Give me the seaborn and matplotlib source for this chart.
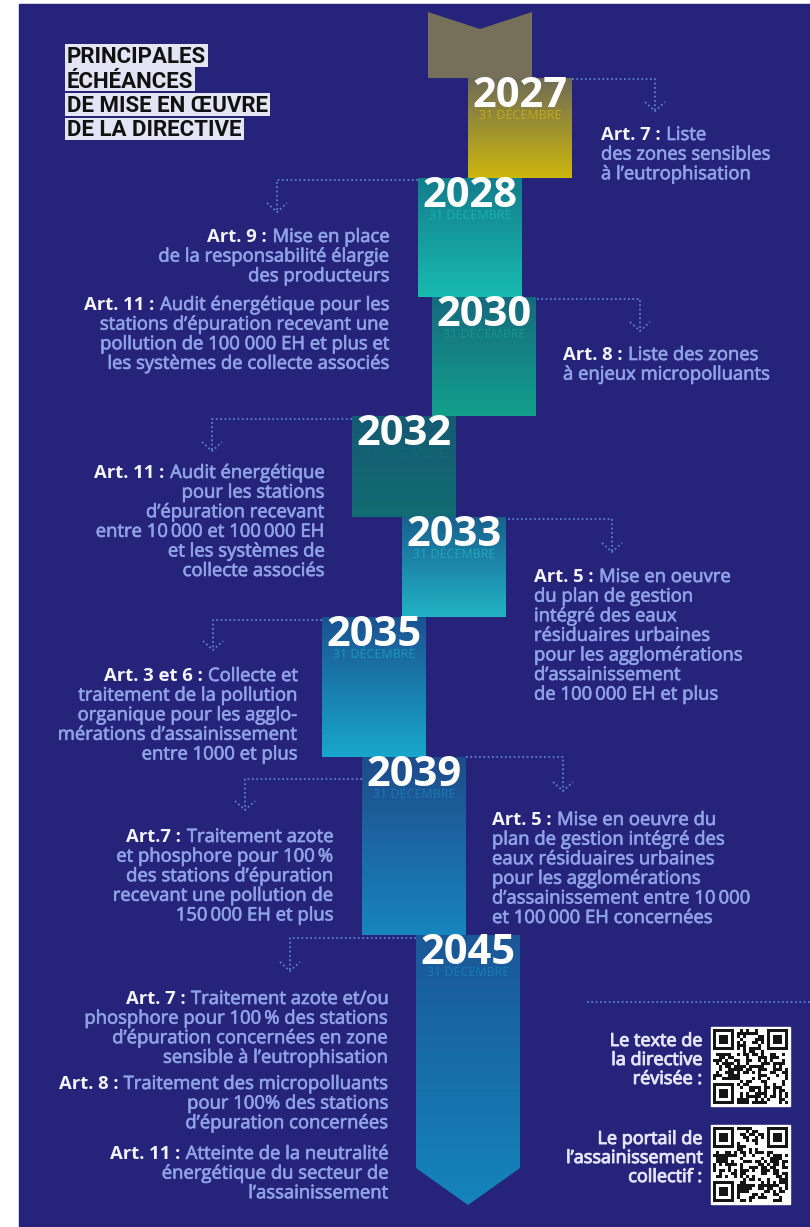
import numpy as np
import matplotlib
matplotlib.use("Agg")
import matplotlib.pyplot as plt
import matplotlib.patheffects as pe
import seaborn as sns
from matplotlib.patches import Polygon, Rectangle
from matplotlib.colors import ListedColormap

# ---------------------------------------------------------------- data
years = ["2027", "2028", "2030", "2032", "2033", "2035", "2039", "2045"]
day_label = "31 DÉCEMBRE"

title_lines = ["PRINCIPALES", "ÉCHÉANCES", "DE MISE EN ŒUVRE", "DE LA DIRECTIVE"]

note_prefix = ["Art. 7 :", "Art. 9 :", "Art. 11 :", "Art. 8 :", "Art. 11 :",
               "Art. 5 :", "Art. 3 et 6 :", "Art.7 :", "Art. 5 :",
               "Art. 7 :", "Art. 8 :", "Art. 11 :"]
note_lines = [
    ["Liste", "des zones sensibles", "à l’eutrophisation"],
    ["Mise en place", "de la responsabilité élargie", "des producteurs"],
    ["Audit énergétique pour les", "stations d’épuration recevant une",
     "pollution de 100 000 EH et plus et", "les systèmes de collecte associés"],
    ["Liste des zones", "à enjeux micropolluants"],
    ["Audit énergétique", "pour les stations", "d’épuration recevant",
     "entre 10\u2009000 et 100\u2009000 EH", "et les systèmes de", "collecte associés"],
    ["Mise en oeuvre", "du plan de gestion", "intégré des eaux", "résiduaires urbaines",
     "pour les agglomérations", "d’assainissement", "de 100\u2009000 EH et plus"],
    ["Collecte et", "traitement de la pollution", "organique pour les agglo-",
     "mérations d’assainissement", "entre 1000 et plus"],
    ["Traitement azote", "et phosphore pour 100\u2009%", "des stations d’épuration",
     "recevant une pollution de", "150\u2009000 EH et plus"],
    ["Mise en oeuvre du", "plan de gestion intégré des", "eaux résiduaires urbaines",
     "pour les agglomérations", "d’assainissement entre 10\u2009000", "et 100\u2009000 EH concernées"],
    ["Traitement azote et/ou", "phosphore pour 100\u2009% des stations",
     "d’épuration concernées en zone", "sensible à l’eutrophisation"],
    ["Traitement des micropolluants", "pour 100% des stations", "d’épuration concernées"],
    ["Atteinte de la neutralité", "énergétique du secteur de", "l’assainissement"],
]

qr_captions = [["Le texte de", "la directive", "révisée :"],
               ["Le portail de", "l’assainissement", "collectif :"]]

# -------------------------------------------------------------- layout (px)
block_x = [468, 418, 432, 352, 402, 322, 362, 416]
block_top = [78, 178, 297, 416, 517, 617, 757, 935]
block_bottom = [178, 297, 416, 517, 617, 757, 935, 1168]
BLOCK_W = 104

top_colors = ["#6f6b57", "#137d8c", "#166a7e", "#155a74", "#18608e", "#1b5291", "#1f4b8b", "#1b5797"]
bottom_colors = ["#cdb70c", "#18bbb0", "#12a08c", "#126c72", "#22b3c6", "#18a7cb", "#1785bd", "#1485bb"]

# connectors: (start x, arrow x, line y, arrow tip y)
connectors = [(572, 655, 79, 111), (418, 277, 180, 212), (537, 640, 299, 331),
              (352, 212, 419, 451), (508, 612, 519, 552), (322, 213, 620, 650),
              (362, 245, 779, 810), (466, 563, 757, 791), (416, 290, 938, 971)]

# notes: (alignment, x, first baseline)
note_pos = [("left", 601, 140), ("right", 390, 242), ("right", 390, 310),
            ("left", 563, 360), ("right", 325, 478), ("left", 534, 582),
            ("right", 298, 681), ("right", 334, 842), ("left", 492, 825),
            ("right", 389, 1004), ("right", 389, 1089), ("right", 389, 1159)]
LINE = 19.6

NAVY = "#25237a"
BODY = "#8fa2e6"
WHITE = "#f4f4ff"
DOT = "#5c7fcf"
FS = 13.3

sns.set_theme(style="white")
plt.rcParams["font.family"] = ["Open Sans", "DejaVu Sans"]

fig = plt.figure(figsize=(8.1, 12.27), dpi=100, facecolor="white")
ax = fig.add_axes([0, 0, 1, 1])
ax.axis("off")
ax.set_xlim(0, 810)
ax.set_ylim(1227, 0)

ax.add_patch(Rectangle((19, 4), 791, 1223, color=NAVY, zorder=0))

body_fx = [pe.withStroke(linewidth=0.5, foreground=BODY)]


def gradient_block(verts, c_top, c_bot, y0, y1):
    x0 = min(v[0] for v in verts)
    x1 = max(v[0] for v in verts)
    pal = np.array(sns.blend_palette([c_top, c_bot], n_colors=256))[:, None, :]
    poly = Polygon(verts, closed=True, fc="none", ec="none")
    ax.add_patch(poly)
    im = ax.imshow(pal, extent=(x0, x1, y1, y0), origin="upper",
                   aspect="auto", interpolation="bilinear", zorder=2)
    im.set_clip_path(poly)


# chevron on top of the first block
ax.add_patch(Polygon([(428, 12), (480, 29), (532, 12), (532, 78), (428, 78)],
                     closed=True, fc="#76705a", ec="none", zorder=2))

for i, year in enumerate(years):
    x0, y0, y1 = block_x[i], block_top[i], block_bottom[i]
    x1 = x0 + BLOCK_W
    if i == len(years) - 1:
        verts = [(x0, y0), (x1, y0), (x1, y1), ((x0 + x1) / 2, y1 + 37), (x0, y1)]
        gradient_block(verts, top_colors[i], bottom_colors[i], y0, y1 + 37)
    else:
        verts = [(x0, y0), (x1, y0), (x1, y1), (x0, y1)]
        gradient_block(verts, top_colors[i], bottom_colors[i], y0, y1)
    cx = (x0 + x1) / 2
    ax.text(cx, y0 + 29, year, ha="center", va="baseline", fontsize=30,
            fontweight="bold", color="white", zorder=5)
    ax.text(cx, y0 + 41, day_label, ha="center", va="baseline", fontsize=9,
            color=bottom_colors[i], alpha=0.8, zorder=4)

# dotted connectors with small arrow heads
dot_kw = dict(color=DOT, lw=1.3, ls=(0, (1, 1.4)), zorder=4)
for xs, xa, yl, yt in connectors:
    ax.plot([xs, xa, xa], [yl, yl, yt], **dot_kw)
    ax.plot([xa - 10, xa, xa + 10], [yt - 9, yt, yt - 9], **dot_kw)

ax.plot([587, 810], [1002, 1002], **dot_kw)

# notes
for (ha, x, y), prefix, lines in zip(note_pos, note_prefix, note_lines):
    for k, line in enumerate(lines):
        yy = y + k * LINE
        if k == 0:
            if ha == "right":
                t = ax.text(x, yy, line, ha="right", va="baseline", color=BODY,
                            fontsize=FS, path_effects=body_fx, zorder=5)
                ax.annotate(prefix, xy=(0, 0), xycoords=t, xytext=(-4, 0), textcoords="offset points",
                            ha="right", va="bottom", color=WHITE, fontsize=FS, fontweight="bold", zorder=5)
            else:
                t = ax.text(x, yy, prefix, ha="left", va="baseline", color=WHITE, fontsize=FS,
                            fontweight="bold", zorder=5)
                ax.annotate(line, xy=(1, 0), xycoords=t, xytext=(4, 0), textcoords="offset points",
                            ha="left", va="bottom", color=BODY, fontsize=FS,
                            path_effects=body_fx, zorder=5)
        else:
            ax.text(x, yy, line, ha=ha, va="baseline", color=BODY, fontsize=FS,
                    path_effects=body_fx, zorder=5)

# title: one highlight band per line, sized from the rendered text width
title_texts = []
for k, line in enumerate(title_lines):
    title_texts.append(ax.text(67, 63 + k * 24.5, line, ha="left", va="baseline", fontsize=16,
                               fontweight="bold", color="#111111",
                               family=["Roboto", "DejaVu Sans"], zorder=6))
fig.canvas.draw()
renderer = fig.canvas.get_renderer()
inv = ax.transData.inverted()
for t, line in zip(title_texts, title_lines):
    bb = t.get_window_extent(renderer)
    (bx0, _), (bx1, _) = inv.transform([(bb.x0, bb.y0), (bb.x1, bb.y1)])
    base = t.get_position()[1]
    top = base - (21.5 if "É" in line else 19)
    ax.add_patch(Rectangle((bx0 - 2, top), bx1 - bx0 + 4, base + 3.5 - top,
                           fc="#e3e4f4", ec="none", zorder=5))


# QR panel (decorative pattern from an integer hash)
def qr_matrix(seed, n=25):
    i, j = np.mgrid[0:n, 0:n].astype(np.int64)
    h = (i * 374761393 + j * 668265263 + seed * 982451653) & 0xFFFFFFFF
    h = ((h ^ (h >> 13)) * 1274126177) & 0xFFFFFFFF
    m = ((h >> 16) & 1).astype(bool)
    for r, c in [(0, 0), (0, n - 7), (n - 7, 0)]:
        m[max(r - 1, 0):r + 8, max(c - 1, 0):c + 8] = False
        m[r:r + 7, c] = m[r:r + 7, c + 6] = True
        m[r, c:c + 7] = m[r + 6, c:c + 7] = True
        m[r + 2:r + 5, c + 2:c + 5] = True
    return m


qr_boxes = [(713, 1029), (713, 1127)]
for (qx, qy), caption, seed in zip(qr_boxes, qr_captions, [5, 11]):
    ax.add_patch(Rectangle((qx - 2, qy - 2), 79, 79, color="white", zorder=3))
    ax.imshow(qr_matrix(seed), cmap=ListedColormap(["white", "#151515"]),
              extent=(qx, qx + 75, qy + 75, qy), interpolation="nearest", zorder=4)
    for k, line in enumerate(caption):
        ax.text(702, qy + 17 + k * 19, line, ha="right", va="baseline", fontsize=13,
                color="#e4e4f6", path_effects=[pe.withStroke(linewidth=0.7, foreground="#e4e4f6")],
                zorder=5)

ax.set_xlim(0, 810)
ax.set_ylim(1227, 0)
fig.savefig("out.png", dpi=100, facecolor="white")
